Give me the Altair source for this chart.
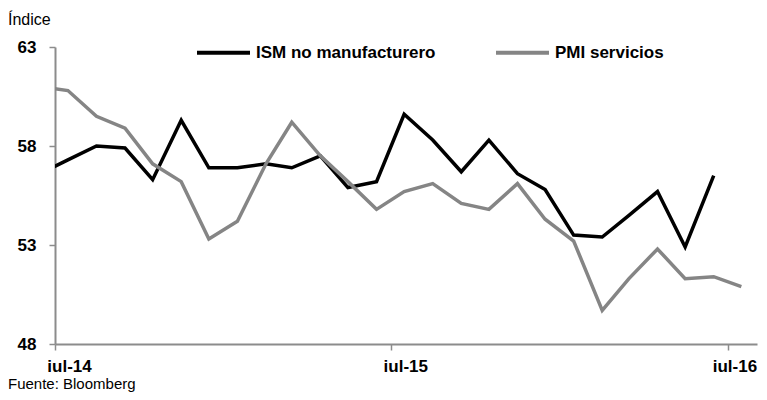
import altair as alt
import pandas as pd

# Monthly data (mid-month), first point jun-14 is clipped at the axis start
ism = [56.6, 57.3, 58.0, 57.9, 56.3, 59.3, 56.9, 56.9, 57.1, 56.9, 57.5, 55.9, 56.2,
       59.6, 58.3, 56.7, 58.3, 56.6, 55.8, 53.5, 53.4, 54.5, 55.7, 52.9, 56.5]
pmi = [61.0, 60.8, 59.5, 58.9, 57.1, 56.2, 53.3, 54.2, 57.1, 59.2, 57.5, 56.2, 54.8,
       55.7, 56.1, 55.1, 54.8, 56.1, 54.3, 53.2, 49.7, 51.3, 52.8, 51.3, 51.4, 50.9]
series_names = ["ISM no manufacturero", "PMI servicios"]
series_colors = ["#000000", "#858585"]
y_ticks = [48, 53, 58, 63]
x_ticks = ["2014-07-01", "2015-07-01", "2016-07-01"]

month_starts = pd.date_range("2014-06-01", periods=26, freq="MS")
dates = [d + pd.Timedelta(days=14) for d in month_starts]

rows = []
for d, v in zip(dates, ism):
    rows.append({"fecha": d, "valor": v, "serie": series_names[0]})
for d, v in zip(dates, pmi):
    rows.append({"fecha": d, "valor": v, "serie": series_names[1]})
df = pd.DataFrame(rows)

FONT = "Liberation Sans"

last_label = "datum.value > datetime(2016, 0, 1)"

lines = alt.Chart(df).mark_line(strokeWidth=3.5, clip=True).encode(
    x=alt.X("fecha:T",
            scale=alt.Scale(domain=["2014-07-01", "2016-08-01"]),
            axis=alt.Axis(values=x_ticks, title=None, grid=False,
                          labelExpr="'iul-' + timeFormat(datum.value, '%y')",
                          labelFont=FONT, labelFontWeight="bold", labelFontSize=17,
                          labelColor="#000000",
                          labelOffset=alt.condition(last_label, alt.value(6), alt.value(14)),
                          labelPadding=8,
                          tickSize=6, labelFlush=False, labelOverlap=False)),
    y=alt.Y("valor:Q",
            scale=alt.Scale(domain=[48, 63], nice=False, zero=False),
            axis=alt.Axis(values=y_ticks, title=None, grid=False,
                          labelFont=FONT, labelFontWeight="bold", labelFontSize=17,
                          labelColor="#000000", tickSize=6, labelPadding=13)),
    color=alt.Color("serie:N",
                    scale=alt.Scale(domain=series_names, range=series_colors),
                    legend=alt.Legend(title=None, orient="none", legendX=140, legendY=-23,
                                      direction="horizontal", symbolType="stroke",
                                      symbolStrokeWidth=4, symbolSize=2809,
                                      labelFont=FONT, labelFontWeight="bold",
                                      labelFontSize=17, labelColor="#000000",
                                      labelOffset=4, columnPadding=52, labelLimit=0)),
)

notes = pd.DataFrame({"txt": ["Índice"]})
indice = alt.Chart(notes).mark_text(
    font=FONT, fontSize=16, align="left", baseline="alphabetic", color="#000000"
).encode(x=alt.value(-47), y=alt.value(-22), text="txt:N")

src = pd.DataFrame({"txt": ["Fuente: Bloomberg"]})
fuente = alt.Chart(src).mark_text(
    font=FONT, fontSize=15, align="left", baseline="alphabetic", color="#000000"
).encode(x=alt.value(-47), y=alt.value(341.5), text="txt:N")

chart = alt.layer(lines, indice, fuente).properties(
    width=702, height=297,
    autosize=alt.AutoSizeParams(type="none"),
    padding={"left": 47, "top": 39, "right": 2, "bottom": 48},
).configure_view(stroke=None).configure_axis(
    domainColor="#8c8c8c", tickColor="#8c8c8c", domainWidth=2, tickWidth=1.5
)

chart.save("out.html", embed_options={"renderer": "svg", "actions": False})
